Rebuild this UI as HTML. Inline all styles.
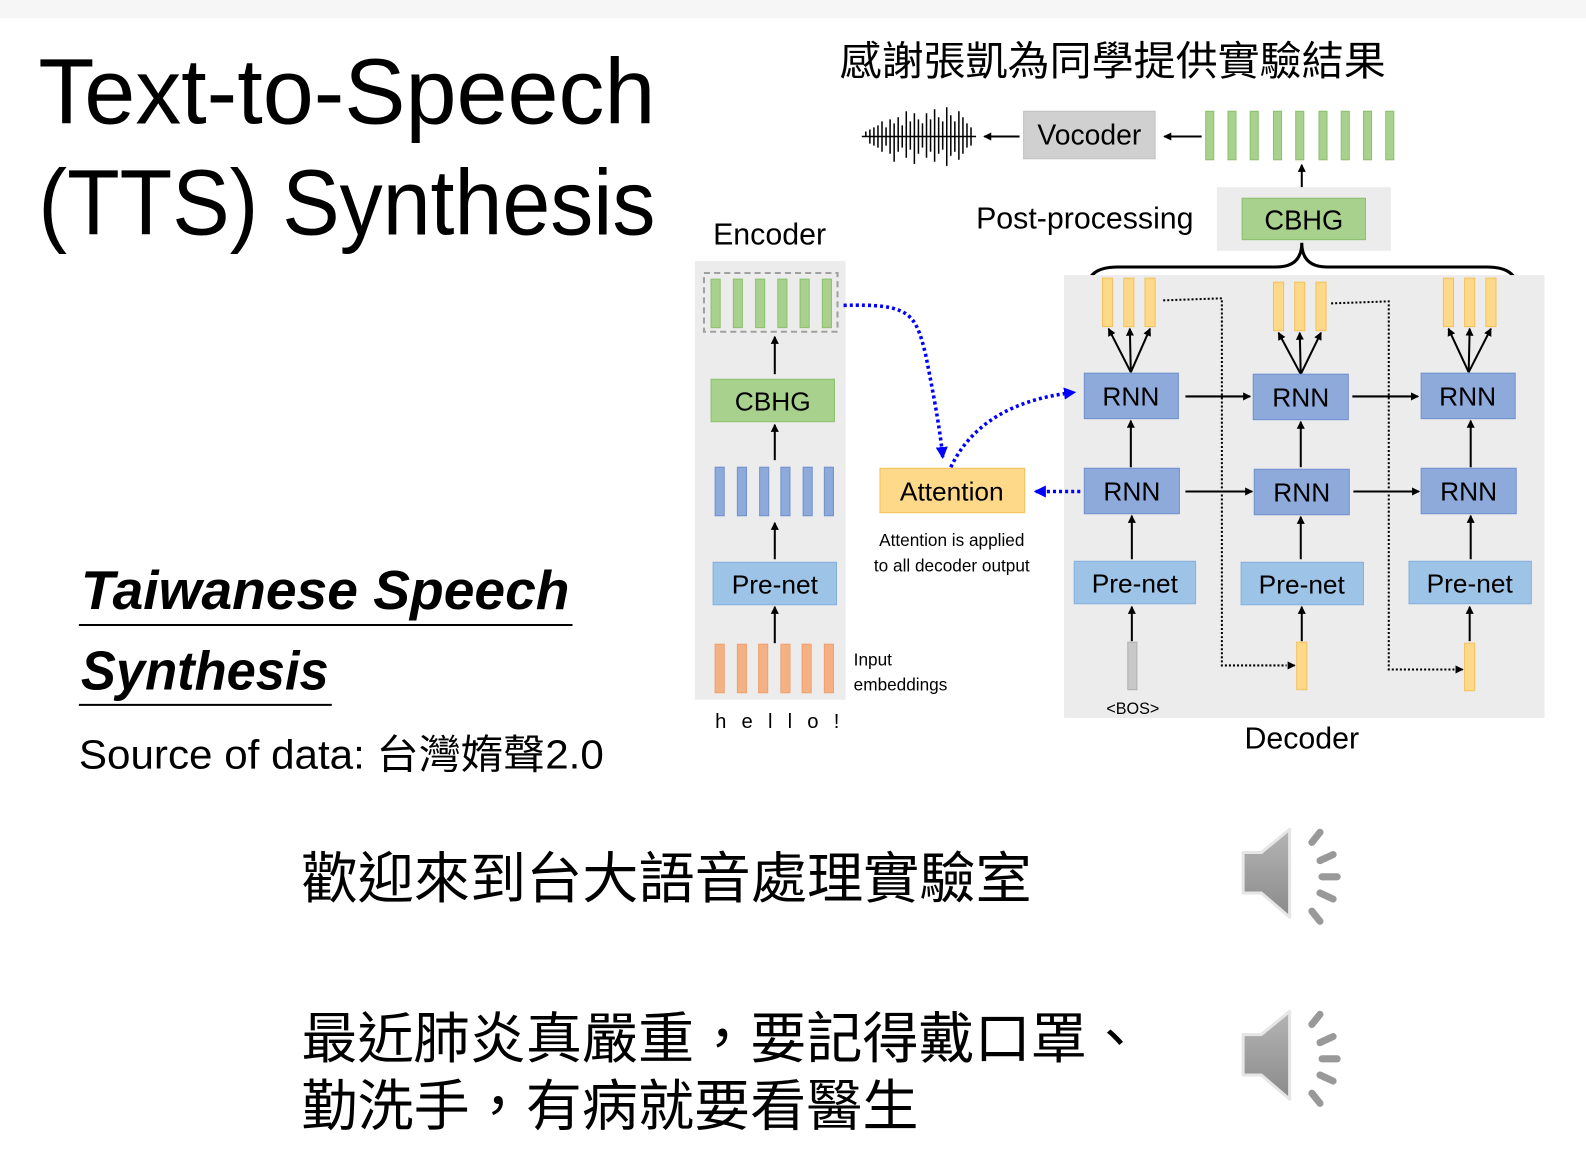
<!DOCTYPE html>
<html><head><meta charset="utf-8"><style>
html,body{margin:0;padding:0;background:#fff;}
svg{display:block;}
text{font-family:"Liberation Sans","Noto Sans CJK TC",sans-serif;}
.cj{font-family:"Liberation Sans","Noto Sans CJK TC",sans-serif;}
</style></head><body>
<svg width="1586" height="1164" viewBox="0 0 1568 1151" preserveAspectRatio="none" xmlns="http://www.w3.org/2000/svg">
<defs>
<marker id="ah" markerWidth="8" markerHeight="8" refX="7" refY="4" orient="auto" markerUnits="userSpaceOnUse"><path d="M0,0 L8,4 L0,8 z" fill="#000"/></marker>
<marker id="ab" markerWidth="12" markerHeight="12" refX="10" refY="6" orient="auto" markerUnits="userSpaceOnUse"><path d="M0,0 L12,6 L0,12 z" fill="#0000ff"/></marker>
<linearGradient id="spk" x1="0" y1="0" x2="0" y2="1"><stop offset="0" stop-color="#b5b5b5"/><stop offset="1" stop-color="#8a8a8a"/></linearGradient>
</defs>
<rect x="0" y="0" width="1568" height="18" fill="#f6f6f6"/>

<text x="38" y="122" font-size="92" textLength="610" lengthAdjust="spacingAndGlyphs">Text-to-Speech</text>
<text x="38" y="232" font-size="92" textLength="610" lengthAdjust="spacingAndGlyphs">(TTS) Synthesis</text>

<text x="830" y="74" font-size="40" class="cj" textLength="540" lengthAdjust="spacingAndGlyphs">感謝張凱為同學提供實驗結果</text>

<g stroke="#000" stroke-width="1.5">
<line x1="852" y1="135" x2="965" y2="135"/>
<path d="M856,135 V130 M860,128 V142 M864,126 V144 M868,124 V146 M872,120 V150 M876,126 V144 M880,118 V152 M884,122 V160 M888,116 V150 M892,124 V146 M896,110 V156 M900,120 V148 M904,112 V162 M908,118 V152 M912,122 V146 M916,112 V156 M920,118 V150 M924,108 V160 M928,116 V152 M932,120 V148 M936,106 V164 M940,114 V154 M944,120 V150 M948,110 V158 M952,116 V152 M956,122 V146 M960,126 V144"/>
</g>
<line x1="1008" y1="135" x2="973" y2="135" stroke="#000" stroke-width="2" marker-end="url(#ah)"/>
<rect x="1012" y="110" width="130" height="47" fill="#d0d0d0" stroke="#c0c0c0"/>
<text x="1077" y="143" font-size="28" text-anchor="middle">Vocoder</text>
<line x1="1188" y1="135" x2="1151" y2="135" stroke="#000" stroke-width="2" marker-end="url(#ah)"/>
<g fill="#a9d18e" stroke="#8cc06e">
<rect x="1192" y="110" width="8" height="48"/><rect x="1214" y="110" width="8" height="48"/><rect x="1236" y="110" width="8" height="48"/><rect x="1259" y="110" width="8" height="48"/><rect x="1281" y="110" width="8" height="48"/><rect x="1304" y="110" width="8" height="48"/><rect x="1326" y="110" width="8" height="48"/><rect x="1348" y="110" width="8" height="48"/><rect x="1370" y="110" width="8" height="48"/>
</g>
<line x1="1287" y1="190" x2="1287" y2="163" stroke="#000" stroke-width="2" marker-end="url(#ah)"/>
<text x="965" y="226" font-size="30">Post-processing</text>
<rect x="1203" y="185" width="172" height="63" fill="#ececec"/>
<rect x="1228" y="196" width="122" height="41" fill="#a9d18e" stroke="#8cc06e"/>
<text x="1289" y="227" font-size="27" text-anchor="middle">CBHG</text>
<path d="M1075,286 Q1075,264 1105,264 L1262,264 Q1287,264 1287,240 Q1287,264 1312,264 L1470,264 Q1500,264 1500,286" fill="none" stroke="#000" stroke-width="3"/>

<text x="705" y="242" font-size="30">Encoder</text>
<rect x="687" y="258" width="149" height="434" fill="#ececec"/>
<rect x="696" y="270" width="132" height="58" fill="none" stroke="#a0a0a0" stroke-width="2" stroke-dasharray="6,4"/>
<g fill="#a9d18e" stroke="#8cc06e"><rect x="703" y="276" width="9" height="48"/><rect x="725" y="276" width="9" height="48"/><rect x="747" y="276" width="9" height="48"/><rect x="769" y="276" width="9" height="48"/><rect x="791" y="276" width="9" height="48"/><rect x="813" y="276" width="9" height="48"/></g>
<g stroke="#000" stroke-width="2" marker-end="url(#ah)">
<line x1="766" y1="370" x2="766" y2="333"/><line x1="766" y1="455" x2="766" y2="420"/><line x1="766" y1="553" x2="766" y2="517"/><line x1="766" y1="636" x2="766" y2="600"/>
</g>
<rect x="703" y="375" width="122" height="42" fill="#a9d18e" stroke="#8cc06e"/>
<text x="764" y="406" font-size="26" text-anchor="middle">CBHG</text>
<g fill="#8eaadb" stroke="#7090cc"><rect x="707" y="462" width="9" height="48"/><rect x="729" y="462" width="9" height="48"/><rect x="751" y="462" width="9" height="48"/><rect x="772" y="462" width="9" height="48"/><rect x="794" y="462" width="9" height="48"/><rect x="815" y="462" width="9" height="48"/></g>
<rect x="705" y="556" width="122" height="42" fill="#9dc3e6" stroke="#85b0dc"/>
<text x="766" y="587" font-size="26" text-anchor="middle">Pre-net</text>
<g fill="#f4b183" stroke="#f0a070"><rect x="707" y="637" width="9" height="48"/><rect x="729" y="637" width="9" height="48"/><rect x="750" y="637" width="9" height="48"/><rect x="772" y="637" width="9" height="48"/><rect x="793" y="637" width="9" height="48"/><rect x="815" y="637" width="9" height="48"/></g>
<text x="707" y="720" font-size="20" letter-spacing="15">hello!</text>
<text x="844" y="658" font-size="17">Input</text>
<text x="844" y="683" font-size="17">embeddings</text>

<rect x="870" y="463" width="143" height="44" fill="#ffd98a" stroke="#f5c05a"/>
<text x="941" y="495" font-size="26" text-anchor="middle">Attention</text>
<text x="941" y="540" font-size="17" text-anchor="middle">Attention is applied</text>
<text x="941" y="565" font-size="17" text-anchor="middle">to all decoder output</text>

<rect x="1052" y="272" width="475" height="438" fill="#ececec"/>
<g fill="none" stroke="#0000ff" stroke-width="3.5" stroke-dasharray="3,3">
<path d="M834,302 C900,300 905,310 915,350 C925,400 930,430 932,452" marker-end="url(#ab)"/>
<path d="M940,462 C960,420 1000,395 1062,388" marker-end="url(#ab)"/>
<path d="M1068,486 L1024,486" marker-end="url(#ab)"/>
</g>
<g fill="#ffd98a" stroke="#f5c05a">
<rect x="1090" y="275" width="10" height="48"/><rect x="1111" y="275" width="10" height="48"/><rect x="1132" y="275" width="10" height="48"/>
<rect x="1259" y="279" width="10" height="48"/><rect x="1280" y="279" width="10" height="48"/><rect x="1301" y="279" width="10" height="48"/>
<rect x="1427" y="275" width="10" height="48"/><rect x="1448" y="275" width="10" height="48"/><rect x="1469" y="275" width="10" height="48"/>
<rect x="1282" y="635" width="10" height="47"/><rect x="1448" y="636" width="10" height="47"/>
</g>
<rect x="1115" y="635" width="9" height="47" fill="#c8c8c8" stroke="#b0b0b0"/>
<g fill="none" stroke="#000" stroke-width="2" stroke-dasharray="2,2">
<path d="M1150,297 L1208,295 L1208,658 L1272,658"/>
<path d="M1316,300 L1373,298 L1373,662 L1440,662"/>
</g>
<g stroke="#000" stroke-width="2" marker-end="url(#ah)">
<line x1="1274" y1="658" x2="1280" y2="658"/><line x1="1441" y1="662" x2="1446" y2="662"/>
<line x1="1118" y1="368" x2="1096" y2="325"/><line x1="1118" y1="368" x2="1117" y2="325"/><line x1="1118" y1="368" x2="1137" y2="325"/>
<line x1="1286" y1="370" x2="1264" y2="329"/><line x1="1286" y1="370" x2="1285" y2="329"/><line x1="1286" y1="370" x2="1306" y2="329"/>
<line x1="1452" y1="368" x2="1432" y2="325"/><line x1="1452" y1="368" x2="1453" y2="325"/><line x1="1452" y1="368" x2="1474" y2="325"/>
<line x1="1172" y1="392" x2="1236" y2="392"/><line x1="1337" y1="392" x2="1402" y2="392"/>
<line x1="1172" y1="486" x2="1238" y2="486"/><line x1="1338" y1="486" x2="1403" y2="486"/>
<line x1="1118" y1="462" x2="1118" y2="416"/><line x1="1286" y1="462" x2="1286" y2="417"/><line x1="1454" y1="462" x2="1454" y2="416"/>
<line x1="1119" y1="553" x2="1119" y2="510"/><line x1="1286" y1="553" x2="1286" y2="511"/><line x1="1454" y1="553" x2="1454" y2="510"/>
<line x1="1119" y1="634" x2="1119" y2="600"/><line x1="1287" y1="634" x2="1287" y2="600"/><line x1="1453" y1="634" x2="1453" y2="600"/>
</g>
<g fill="#8eaadb" stroke="#6f8fcf">
<rect x="1072" y="369" width="93" height="45"/><rect x="1239" y="370" width="94" height="45"/><rect x="1405" y="369" width="93" height="45"/>
<rect x="1072" y="463" width="94" height="45"/><rect x="1240" y="464" width="94" height="45"/><rect x="1405" y="463" width="94" height="45"/>
</g>
<g font-size="26" text-anchor="middle">
<text x="1118" y="401">RNN</text><text x="1286" y="402">RNN</text><text x="1451" y="401">RNN</text>
<text x="1119" y="495">RNN</text><text x="1287" y="496">RNN</text><text x="1452" y="495">RNN</text>
</g>
<g fill="#9dc3e6" stroke="#85b0dc">
<rect x="1062" y="555" width="120" height="42"/><rect x="1227" y="556" width="121" height="42"/><rect x="1393" y="555" width="121" height="42"/>
</g>
<g font-size="26" text-anchor="middle">
<text x="1122" y="586">Pre-net</text><text x="1287" y="587">Pre-net</text><text x="1453" y="586">Pre-net</text>
</g>
<text x="1120" y="706" font-size="16" text-anchor="middle">&lt;BOS&gt;</text>
<text x="1287" y="740" font-size="30" text-anchor="middle">Decoder</text>

<text x="80" y="602" font-size="54" font-weight="bold" font-style="italic" textLength="483" lengthAdjust="spacingAndGlyphs">Taiwanese Speech</text>
<line x1="78" y1="618" x2="566" y2="618" stroke="#000" stroke-width="2"/>
<text x="80" y="682" font-size="54" font-weight="bold" font-style="italic" textLength="245" lengthAdjust="spacingAndGlyphs">Synthesis</text>
<line x1="78" y1="697" x2="328" y2="697" stroke="#000" stroke-width="2"/>
<text x="78" y="760" font-size="40" class="cj" textLength="519" lengthAdjust="spacingAndGlyphs">Source of data: 台灣媠聲2.0</text>

<text x="298" y="888" font-size="55" class="cj" textLength="722" lengthAdjust="spacingAndGlyphs">歡迎來到台大語音處理實驗室</text>
<text x="298" y="1046" font-size="55" class="cj" textLength="832" lengthAdjust="spacingAndGlyphs">最近肺炎真嚴重，要記得戴口罩、</text>
<text x="298" y="1113" font-size="55" class="cj" textLength="610" lengthAdjust="spacingAndGlyphs">勤洗手，有病就要看醫生</text>

<g transform="translate(1225,815)">
<path d="M4,28 H22 L50,5 V92 L22,68 H4 Z" fill="url(#spk)" stroke="#e6e6e6" stroke-width="3" stroke-linejoin="round"/>
<g stroke="#999" stroke-width="7" stroke-linecap="round">
<line x1="72" y1="18" x2="80" y2="8"/><line x1="80" y1="36" x2="93" y2="30"/><line x1="82" y1="52" x2="97" y2="52"/><line x1="80" y1="68" x2="93" y2="74"/><line x1="72" y1="86" x2="80" y2="96"/>
</g>
</g>
<g transform="translate(1225,995)">
<path d="M4,28 H22 L50,5 V92 L22,68 H4 Z" fill="url(#spk)" stroke="#e6e6e6" stroke-width="3" stroke-linejoin="round"/>
<g stroke="#999" stroke-width="7" stroke-linecap="round">
<line x1="72" y1="18" x2="80" y2="8"/><line x1="80" y1="36" x2="93" y2="30"/><line x1="82" y1="52" x2="97" y2="52"/><line x1="80" y1="68" x2="93" y2="74"/><line x1="72" y1="86" x2="80" y2="96"/>
</g>
</g>
</svg>
</body></html>
